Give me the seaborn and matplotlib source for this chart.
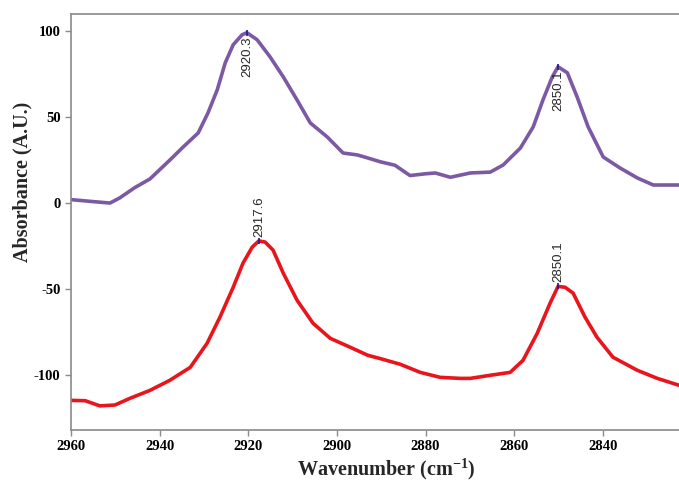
import numpy as np
import pandas as pd
import seaborn as sns
import matplotlib
matplotlib.use("Agg")
import matplotlib.pyplot as plt

# upper (purple) trace
top_wn = [2960, 2955.7, 2951.2, 2949, 2945.6, 2942.2, 2937.7, 2934.7, 2931.3, 2929.1,
          2927.0, 2925.2, 2923.4, 2921.4, 2920.3, 2918.0, 2915.1, 2912.1, 2909.0, 2906.0,
          2902.2, 2898.6, 2895.4, 2893.0, 2890.2, 2886.9, 2883.5, 2880.1, 2877.8, 2874.4,
          2869.9, 2865.4, 2862.5, 2858.6, 2855.7, 2853.5, 2851.4, 2850.1, 2848.0, 2845.8,
          2843.3, 2839.9, 2836.1, 2832.2, 2828.6, 2822.8]
top_abs = [2, 1, 0, 3, 9, 14, 25, 32.6, 40.8, 52.4,
           65.9, 81.6, 92.1, 97.9, 99.1, 95, 85.1, 73.4, 60, 46.6,
           38.5, 29.1, 28, 26.2, 24, 22, 16, 17, 17.5, 15,
           17.5, 18, 22.1, 32, 44.3, 60, 73.4, 79.3, 75.8, 61.8,
           44.3, 26.8, 20.4, 14.6, 10.5, 10.5]

# lower (red) trace
bot_wn = [2960, 2956.8, 2953.5, 2950.1, 2946.7, 2942.2, 2937.7, 2933.1, 2929.3, 2926.4,
          2923.4, 2921.2, 2919.1, 2917.6, 2916.2, 2914.4, 2912.1, 2909.0, 2905.4, 2901.5,
          2897.0, 2893.0, 2890.2, 2885.7, 2881.2, 2876.7, 2872.2, 2869.9, 2865.4, 2860.9,
          2858.0, 2854.8, 2851.9, 2850.1, 2848.5, 2846.7, 2844.0, 2841.3, 2837.7, 2832.2,
          2827.7, 2822.8]
bot_abs = [-114.8, -115, -118, -117.5, -113.6, -109, -103.1, -95.6, -81.6, -66.4,
           -49, -35, -25.6, -22, -22.7, -27.4, -40.8, -56.5, -69.9, -78.7,
           -83.9, -88.6, -90.5, -93.8, -98.5, -101.4, -102, -102, -100.2, -98.5,
           -91.5, -75.8, -58.3, -48.5, -49, -52.4, -66.4, -78.1, -89.7, -97.3,
           -102, -106]

top_peaks = [2920.3, 2850.1]
top_peak_abs = [99.1, 79.3]
bot_peaks = [2917.6, 2850.1]
bot_peak_abs = [-22, -48.5]

sns.set_style("ticks")
plt.rcParams["font.family"] = ["Liberation Serif", "DejaVu Serif"]
plt.rcParams["mathtext.fontset"] = "custom"
plt.rcParams["mathtext.bf"] = "Liberation Serif:bold"
plt.rcParams["mathtext.rm"] = "Liberation Serif:bold"
plt.rcParams["axes.unicode_minus"] = False
plt.rcParams["lines.solid_joinstyle"] = "round"
plt.rcParams["lines.solid_capstyle"] = "round"

fig = plt.figure(figsize=(6.79, 4.82), dpi=100)
ax = fig.add_axes([0.1046, 0.108, 0.8954, 0.863])

df_top = pd.DataFrame({"wn": top_wn, "a": top_abs})
df_bot = pd.DataFrame({"wn": bot_wn, "a": bot_abs})
sns.lineplot(data=df_top, x="wn", y="a", color="#7b5aa3", linewidth=2.6, ax=ax)
sns.lineplot(data=df_bot, x="wn", y="a", color="#e8161c", linewidth=2.6, ax=ax)

# peak markers and labels
lab_font = ["Liberation Sans", "DejaVu Sans"]
for wn, a in zip(top_peaks, top_peak_abs):
    ax.plot([wn], [a], marker="|", color="#1a1aa0", markersize=5, mew=1.2)
    ax.text(wn, a - 2, f"{wn:.1f}", rotation=90, ha="center", va="top",
            fontsize=9.5, family=lab_font)
for wn, a in zip(bot_peaks, bot_peak_abs):
    ax.plot([wn], [a], marker="|", color="#1a1aa0", markersize=5, mew=1.2)
    ax.text(wn, a + 2.5, f"{wn:.1f}", rotation=90, ha="center", va="bottom",
            fontsize=9.5, family=lab_font)

ax.set_xlim(2960, 2822.8)
ax.set_ylim(-132, 110)
ax.set_xticks([2960, 2940, 2920, 2900, 2880, 2860, 2840])
ax.set_yticks([-100, -50, 0, 50, 100])

for s in ["left", "bottom", "top"]:
    ax.spines[s].set_color("#8a8a8a")
    ax.spines[s].set_linewidth(1.2)
ax.spines["right"].set_visible(False)
ax.tick_params(axis="both", colors="#8a8a8a", length=4, width=1, labelcolor="black",
               labelsize=10.5)
for lab in ax.get_xticklabels() + ax.get_yticklabels():
    lab.set_fontweight("bold")

ax.set_xlabel(r"Wavenumber (cm$^{-1}$)", fontsize=14.5, fontweight="bold")
ax.set_ylabel("Absorbance (A.U.)", fontsize=14.5, fontweight="bold")
ax.xaxis.set_label_coords(0.518, -0.062)
ax.yaxis.set_label_coords(-0.064, 0.596)

fig.savefig("out.png", dpi=100)
